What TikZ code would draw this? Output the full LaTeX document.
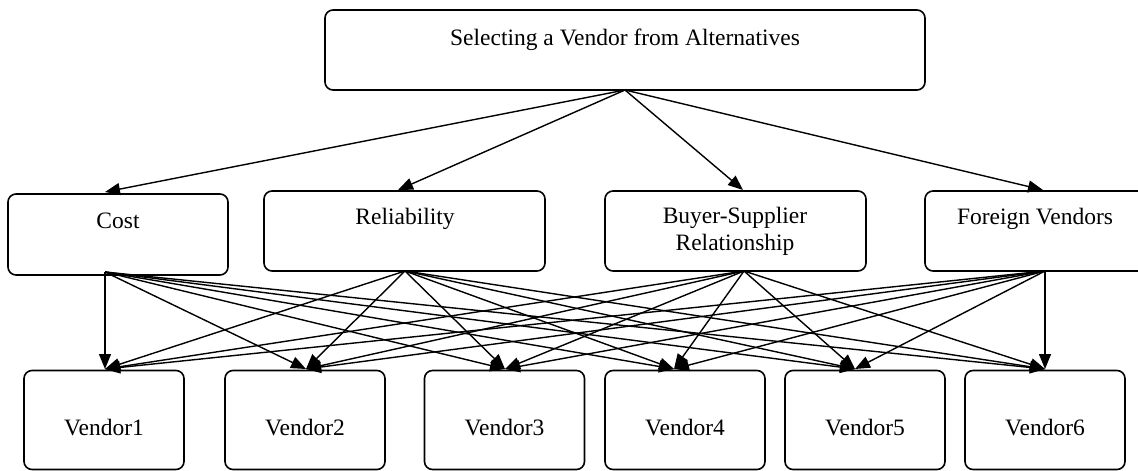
\documentclass[tikz,border=0pt]{standalone}
\usepackage{fontspec}
\setmainfont{Liberation Serif}
\usetikzlibrary{arrows.meta}
\newcommand\lblfont{\fontsize{23.5}{27}\selectfont}
\begin{document}
\begin{tikzpicture}[x=1pt,y=-1pt,
  box/.style={draw, line width=1.6pt, rounded corners=8pt, inner sep=0pt},
  lbl/.style={font=\lblfont, anchor=base, inner sep=0pt},
  arr/.style={line width=1.4pt, -{Triangle[length=15pt,width=12pt]}}]
\useasboundingbox (0,0) rectangle (1138,471);
% top box
\node[box, minimum width=600pt, minimum height=80pt] (top) at (625,50) {};
\node[lbl] (toptxt) at (625,45) {Selecting a Vendor from Alternatives};
% middle boxes
\node[box, minimum width=220pt, minimum height=81pt] (cost) at (118,234.5) {};
\node[lbl] (costtxt) at (118,228) {Cost};
\node[box, minimum width=281pt, minimum height=80pt] (rel) at (404.5,231) {};
\node[lbl] (reltxt) at (405,224) {Reliability};
\node[box, minimum width=261pt, minimum height=80pt] (buy) at (735.5,231) {};
\node[lbl] (buytxta) at (735,223) {Buyer-Supplier};
\node[lbl] (buytxtb) at (735,250) {Relationship};
\node[box, minimum width=221pt, minimum height=80pt] (for) at (1035.5,231) {};
\node[lbl] (fortxt) at (1035,224) {Foreign Vendors};
% vendor boxes
\foreach \i/\cx in {1/104,2/305,3/504.5,4/685,5/865,6/1045}{
  \node[box, minimum width=160pt, minimum height=99pt] (v\i) at (\cx,420) {};
  \node[lbl] (v\i txt) at (\cx,435) {Vendor\i};
}
% connection points
\coordinate (topout) at (625,90);
\coordinate (costin) at (105,192);
\coordinate (relin) at (398,190);
\coordinate (buyin) at (743,190);
\coordinate (forin) at (1043,190);
\coordinate (costout) at (105,272);
\coordinate (relout) at (405,271);
\coordinate (buyout) at (744,271);
\coordinate (forout) at (1045,271);
\coordinate (v1in) at (105,369);
\coordinate (v2in) at (306,369);
\coordinate (v3in) at (505,369);
\coordinate (v4in) at (674,369);
\coordinate (v5in) at (855,369);
\coordinate (v6in) at (1045,369);
% top arrows
\foreach \s in {cost,rel,buy,for}{
  \draw[arr] (topout) -- (\s in);
}
% bottom arrows
\foreach \s in {cost,rel,buy,for}{
  \foreach \i in {1,...,6}{
    \draw[arr] (\s out) -- (v\i in);
  }
}
\end{tikzpicture}
\end{document}
